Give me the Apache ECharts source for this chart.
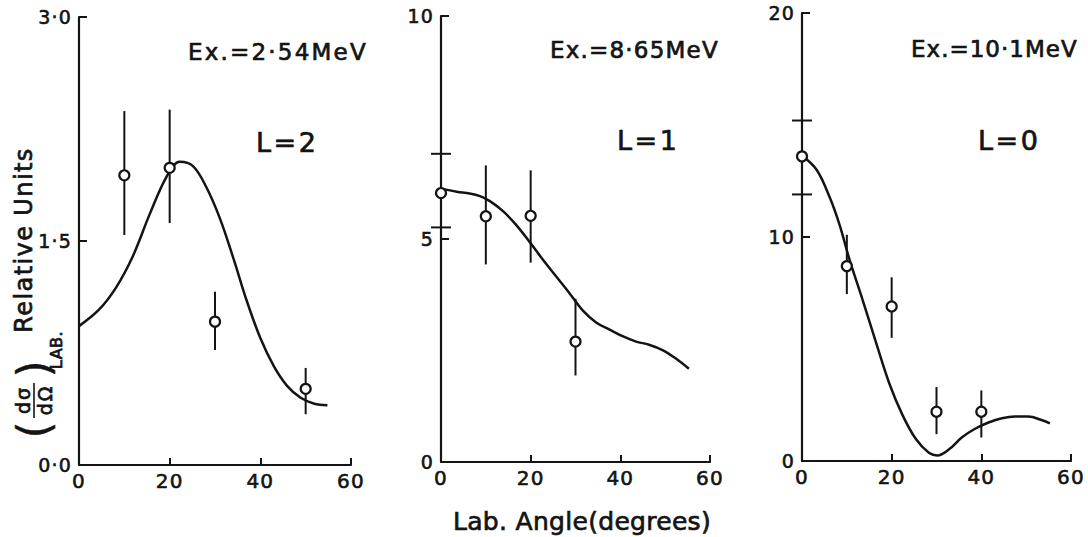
<!DOCTYPE html>
<html><head><meta charset="utf-8">
<script src="https://cdn.jsdelivr.net/npm/echarts@6/dist/echarts.min.js"></script>
<style>html,body{margin:0;padding:0;background:#fff}#c{width:1088px;height:537px}</style>
</head><body><div id="c"></div>
<script>
// ---------- data ----------
const xTicks = [0, 20, 40, 60];
const xTickLabels = ['0', '20', '40', '60'];

// Panel 1: Ex = 2.54 MeV, L = 2
const p1Ticks = [0, 1.5, 3];
const p1TickLabels = ['0·0', '1·5', '3·0'];
const p1Angles = [10, 20, 30, 50];
const p1Values = [1.94, 1.99, 0.96, 0.51];
const p1Low = [1.54, 1.62, 0.77, 0.34];
const p1High = [2.37, 2.38, 1.16, 0.65];
const p1CurveX = [0, 4.4, 8.2, 11.9, 15.6, 19.3, 22.2, 25.2, 28.1, 31.1, 34.1, 37.0, 40.0, 43.0, 45.9, 48.9, 51.9, 54.8];
const p1CurveY = [0.93, 1.04, 1.19, 1.40, 1.68, 1.93, 2.03, 2.00, 1.86, 1.65, 1.38, 1.10, 0.85, 0.66, 0.53, 0.45, 0.41, 0.40];

// Panel 2: Ex = 8.65 MeV, L = 1
const p2Ticks = [0, 5, 10];
const p2TickLabels = ['0', '5', '10'];
const p2Angles = [0, 10, 20, 30];
const p2Values = [6.03, 5.51, 5.52, 2.70];
const p2Low = [5.26, 4.43, 4.47, 1.94];
const p2High = [6.91, 6.65, 6.54, 3.66];
const p2CurveX = [0, 3.5, 6.4, 8.7, 10.9, 13.9, 16.8, 19.8, 22.7, 25.7, 28.7, 31.6, 34.6, 37.6, 40.5, 43.5, 46.4, 49.4, 52.4, 55.3];
const p2CurveY = [6.13, 6.06, 6.02, 5.96, 5.85, 5.62, 5.31, 4.93, 4.54, 4.16, 3.78, 3.40, 3.13, 2.97, 2.82, 2.70, 2.63, 2.51, 2.32, 2.09];

// Panel 3: Ex = 10.1 MeV, L = 0
const p3Ticks = [0, 10, 20];
const p3TickLabels = ['0', '10', '20'];
const p3Angles = [0, 10, 20, 30, 40];
const p3Values = [13.6, 8.7, 6.9, 2.2, 2.2];
const p3Low = [11.9, 7.45, 5.5, 1.2, 1.05];
const p3High = [15.2, 10.1, 8.2, 3.3, 3.15];
const p3CurveX = [0, 3.3, 6.2, 8.4, 10.6, 13.6, 16.5, 19.5, 22.4, 25.4, 28.3, 30.2, 32.8, 35.7, 38.7, 41.6, 44.6, 47.5, 50.5, 53.4, 55.3];
const p3CurveY = [13.64, 12.99, 11.76, 10.53, 8.99, 7.14, 5.30, 3.45, 2.06, 0.98, 0.37, 0.25, 0.52, 1.06, 1.45, 1.72, 1.91, 1.99, 1.99, 1.83, 1.68];

const titles = ['Ex.=2·54MeV', 'Ex.=8·65MeV', 'Ex.=10·1MeV'];
const lLabels = ['L=2', 'L=1', 'L=0'];
const xTitle = 'Lab. Angle(degrees)';
const yTitle = 'Relative Units';

// ---------- chart ----------
const INK = '#141414';
const FONT = '"DejaVu Sans", sans-serif';
const panels = [
  {ticks: p1Ticks, labels: p1TickLabels, max: 3, interval: 1.5, ang: p1Angles, val: p1Values, lo: p1Low, hi: p1High, cx: p1CurveX, cy: p1CurveY},
  {ticks: p2Ticks, labels: p2TickLabels, max: 10, interval: 5, ang: p2Angles, val: p2Values, lo: p2Low, hi: p2High, cx: p2CurveX, cy: p2CurveY},
  {ticks: p3Ticks, labels: p3TickLabels, max: 20, interval: 10, ang: p3Angles, val: p3Values, lo: p3Low, hi: p3High, cx: p3CurveX, cy: p3CurveY}
];
const grids = [
  {left: 79, top: 17, width: 272, height: 448},
  {left: 441, top: 16, width: 269, height: 446},
  {left: 802, top: 13, width: 269, height: 448}
];

const xAxes = [], yAxes = [], series = [];
panels.forEach((p, i) => {
  xAxes.push({
    gridIndex: i, type: 'value', min: 0, max: 60, interval: 20,
    axisLine: {lineStyle: {color: INK, width: 2.2}},
    axisTick: {inside: true, length: 7, lineStyle: {color: INK, width: 2}},
    splitLine: {show: false},
    axisLabel: {color: INK, fontFamily: FONT, fontSize: 20, margin: 6,
      textBorderColor: INK, textBorderWidth: 0.6,
      formatter: v => xTickLabels[xTicks.indexOf(v)]}
  });
  yAxes.push({
    gridIndex: i, type: 'value', min: 0, max: p.max, interval: p.interval,
    axisLine: {show: true, lineStyle: {color: INK, width: 2.2}},
    axisTick: {show: true, inside: true, length: 8, lineStyle: {color: INK, width: 2}},
    splitLine: {show: false},
    axisLabel: {color: INK, fontFamily: FONT, fontSize: 19, margin: 7, padding: [7, 0, 0, 0],
      textBorderColor: INK, textBorderWidth: 0.6,
      formatter: v => p.labels[p.ticks.indexOf(v)]}
  });
  series.push({
    type: 'line', xAxisIndex: i, yAxisIndex: i, smooth: 0.35, showSymbol: false, symbol: 'none',
    lineStyle: {color: INK, width: 2.5}, z: 2,
    data: p.cx.map((x, k) => [x, p.cy[k]])
  });
  series.push({
    type: 'custom', xAxisIndex: i, yAxisIndex: i, z: 3, clip: false,
    data: p.ang.map((a, k) => [a, p.lo[k], p.hi[k]]),
    renderItem: (params, api) => {
      const x = api.value(0);
      const a = api.coord([x, api.value(1)]);
      const b = api.coord([x, api.value(2)]);
      const st = {stroke: INK, lineWidth: 2};
      const ch = [{type: 'line', shape: {x1: a[0], y1: a[1], x2: b[0], y2: b[1]}, style: st}];
      if (x === 0) {
        ch.push({type: 'line', shape: {x1: a[0] - 10, y1: a[1], x2: a[0] + 10, y2: a[1]}, style: st});
        ch.push({type: 'line', shape: {x1: b[0] - 10, y1: b[1], x2: b[0] + 10, y2: b[1]}, style: st});
      }
      return {type: 'group', children: ch};
    }
  });
  series.push({
    type: 'scatter', xAxisIndex: i, yAxisIndex: i, z: 4, symbol: 'circle', symbolSize: 10,
    itemStyle: {color: '#fff', borderColor: INK, borderWidth: 2.2, opacity: 1},
    data: p.ang.map((a, k) => [a, p.val[k]])
  });
});

const txt = (x, y, text, size, extra) => Object.assign({
  type: 'text', x, y, z: 10,
  style: Object.assign({text, fontSize: size, fontFamily: FONT, fill: INK, stroke: INK, lineWidth: 0.7,
    align: 'left', verticalAlign: 'middle'}, (extra || {}).style || {})
}, extra ? {rotation: extra.rotation || 0} : {});

const R = Math.PI / 2;
const graphics = [
  txt(188, 52, titles[0], 23), txt(550, 50, titles[1], 23), txt(911, 49, titles[2], 23),
  txt(256, 142, lLabels[0], 27), txt(617, 140, lLabels[1], 27), txt(978, 140, lLabels[2], 27),
  txt(453, 521, xTitle, 25),
  txt(24, 240, yTitle, 24, {rotation: R, style: {align: 'center'}}),
  txt(56, 350, 'LAB.', 16, {rotation: R, style: {align: 'center'}}),
  txt(23, 400, 'dσ', 19, {rotation: R, style: {align: 'center'}}),
  txt(45, 400, 'dΩ', 19, {rotation: R, style: {align: 'center'}}),
  txt(33, 430, '(', 44, {rotation: R, style: {align: 'center', lineWidth: 0.4}}),
  txt(33, 369, ')', 44, {rotation: R, style: {align: 'center', lineWidth: 0.4}}),
  {type: 'line', z: 10, shape: {x1: 34, y1: 383, x2: 34, y2: 418}, style: {stroke: INK, lineWidth: 1.6}}
];

const chart = echarts.init(document.getElementById('c'), null, {renderer: 'svg'});
chart.setOption({
  animation: false,
  backgroundColor: '#fff',
  grid: grids,
  xAxis: xAxes,
  yAxis: yAxes,
  series: series,
  graphic: graphics
});

// widen letter spacing to mimic the original lettering
const spacing = {};
spacing[titles[0]] = 2.2; spacing[titles[1]] = 1.2; spacing[titles[2]] = 1.0;
lLabels.forEach(t => spacing[t] = 2.5);
spacing[xTitle] = 0.3;
spacing[yTitle] = 1.4;
spacing['dσ'] = 2; spacing['dΩ'] = 2;
spacing['('] = 0; spacing[')'] = 0; spacing['LAB.'] = 0.5;
document.querySelectorAll('#c text').forEach(t => {
  const s = spacing[t.textContent];
  t.setAttribute('letter-spacing', (s === undefined ? 1.2 : s) + 'px');
});
</script>
</body></html>
